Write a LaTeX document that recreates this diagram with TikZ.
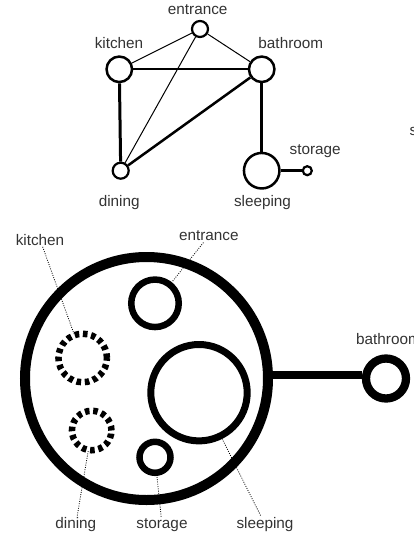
\documentclass[tikz,border=0pt]{standalone}
\usepackage{fontspec}
\setmainfont{Liberation Sans}
\begin{document}
\begin{tikzpicture}[x=1pt,y=-1pt,
  lbl/.style={font=\fontsize{15.3}{17}\selectfont, text=txt, inner sep=1.5pt},
  room/.style={circle, draw=black, inner sep=0pt, line width=2.5pt, minimum size=#1},
  bigroom/.style={circle, draw=black, inner sep=0pt, line width=6.5pt, minimum size=#1},
  dashroom/.style={circle, draw=black, inner sep=0pt, line width=6.5pt, minimum size=#1, dash pattern=on 4.6pt off 3.7pt},
  thinlink/.style={line width=1pt},
  leader/.style={line width=0.8pt, dash pattern=on 0.9pt off 1.4pt, shorten >=-2pt},
]
\definecolor{txt}{HTML}{333333}
\useasboundingbox (0,0) rectangle (413,536);

% ---------- top graph ----------
\node[room=16pt, line width=2.2pt] (te) at (200,29) {};
\node[room=25.5pt] (tk) at (119.3,69.3) {};
\node[room=25.5pt] (tb) at (261.7,69.3) {};
\node[room=16pt, line width=2.2pt] (td) at (120.7,170.7) {};
\node[room=35.5pt] (ts) at (261.7,170.7) {};
\node[room=9pt, line width=2.2pt] (tst) at (307.3,170.7) {};

\node[lbl, anchor=base] (lte) at (197.7,14) {entrance};
\node[lbl, anchor=base] (ltk) at (119,48.3) {kitchen};
\node[lbl, anchor=base] (ltb) at (290.8,48.3) {bathroom};
\node[lbl, anchor=base] (ltst) at (315.2,154) {storage};
\node[lbl, anchor=base] (ltd) at (119.2,206) {dining};
\node[lbl, anchor=base] (lts) at (262.5,206) {sleeping};
\node[lbl, anchor=base west, inner sep=0pt] (lsx) at (409.5,135) {s};

\draw[thinlink] (tk) -- (te);
\draw[thinlink] (te) -- (tb);
\draw[thinlink] (te) -- (td);
\draw[line width=2pt] (tk) -- (tb);
\draw[line width=3pt] (tk) -- (td);
\draw[line width=2.5pt] (td) -- (tb);
\draw[line width=3pt] (tb) -- (ts);
\draw[line width=3.2pt] (ts) -- (tst);

% ---------- bottom diagram ----------
\node[circle, draw=black, inner sep=0pt, line width=10pt, minimum size=243pt] (big) at (146.5,378.5) {};
\node[bigroom=47.5pt] (be) at (155,303.3) {};
\node[dashroom=48.5pt] (bk) at (82.7,358) {};
\node[dashroom=39.5pt] (bd) at (91.7,430.5) {};
\node[bigroom=96.4pt, line width=7pt] (bs) at (199,392.7) {};
\node[bigroom=31pt] (bst) at (155,457.3) {};
\node[circle, draw=black, inner sep=0pt, line width=8.3pt, minimum size=40pt] (bb) at (386,378.5) {};

\draw[line width=8.6pt] ([yshift=3.5pt]big.east) -- ([yshift=3.5pt]bb.west);

\node[lbl, anchor=base] (lbk) at (40,245) {kitchen};
\node[lbl, anchor=base] (lbe) at (208.8,240.7) {entrance};
\node[lbl, anchor=base west, inner sep=0pt] (lbb) at (356,344) {bathroom};
\node[lbl, anchor=base] (lbd) at (75.8,528.3) {dining};
\node[lbl, anchor=base] (lbst) at (162,528.3) {storage};
\node[lbl, anchor=base] (lbs) at (265,528.3) {sleeping};

\draw[leader] (lbk) -- (bk);
\draw[leader] (lbe) -- (be);
\draw[leader] (lbd) -- (bd);
\draw[leader] (lbst) -- (bst);
\draw[leader] (lbs) -- (bs);
\end{tikzpicture}
\end{document}
